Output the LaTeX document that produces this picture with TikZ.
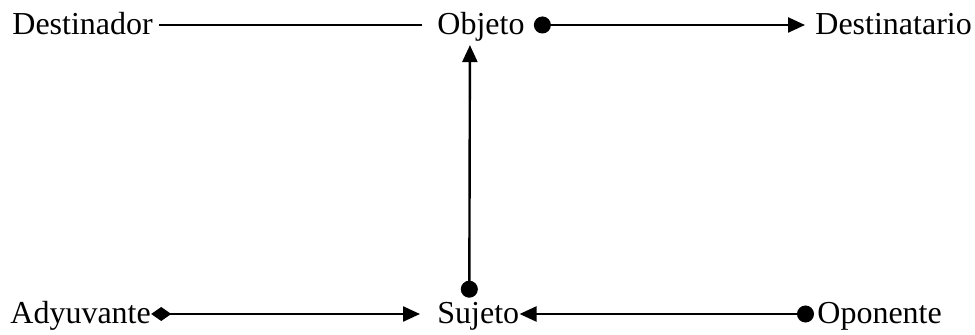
\documentclass[tikz,border=0pt]{standalone}
\usepackage{fontspec}
\setmainfont{Liberation Serif}
\usepackage{tikz}
\usetikzlibrary{arrows.meta}

\begin{document}
\begin{tikzpicture}[x=0.5pt,y=-0.5pt,
actante/.style={anchor=west,inner sep=0pt,font=\fontsize{16pt}{19pt}\selectfont,
text height=12pt,text depth=2.7pt},
eje/.style={line width=1.2pt},
punto/.style={{Circle[length=8.5pt]}-{Triangle[length=8.5pt,width=7.5pt]}},
rombo/.style={{Diamond[length=10pt,width=7pt]}-{Triangle[length=8.5pt,width=7.5pt]}}]
\useasboundingbox (0,0) rectangle (975,335);
% actantes
\node[actante] (destinador) at (12,25) {Destinador};
\node[actante] (objeto) at (437,25) {Objeto};
\node[actante] (destinatario) at (815,25) {Destinatario};
\node[actante] (adyuvante) at (10,314) {Adyuvante};
\node[actante] (sujeto) at (437,314) {Sujeto};
\node[actante] (oponente) at (817,314) {Oponente};
% relaciones
\draw[eje,shorten <=3pt,shorten >=7.5pt] (destinador.east) -- (objeto.west);
\draw[eje,punto,shorten <=4.5pt,shorten >=5pt] (objeto.east) -- (destinatario.west);
\draw[eje,punto,shorten <=0.6pt,shorten >=2.5pt] ([xshift=-4.5pt]sujeto.north) -- ([xshift=-5.5pt]objeto.south);
\draw[eje,rombo,shorten >=8.5pt] (adyuvante.east) -- (sujeto.west);
\draw[eje,punto,shorten <=1.5pt] (oponente.west) -- (sujeto.east);
\end{tikzpicture}
\end{document}
